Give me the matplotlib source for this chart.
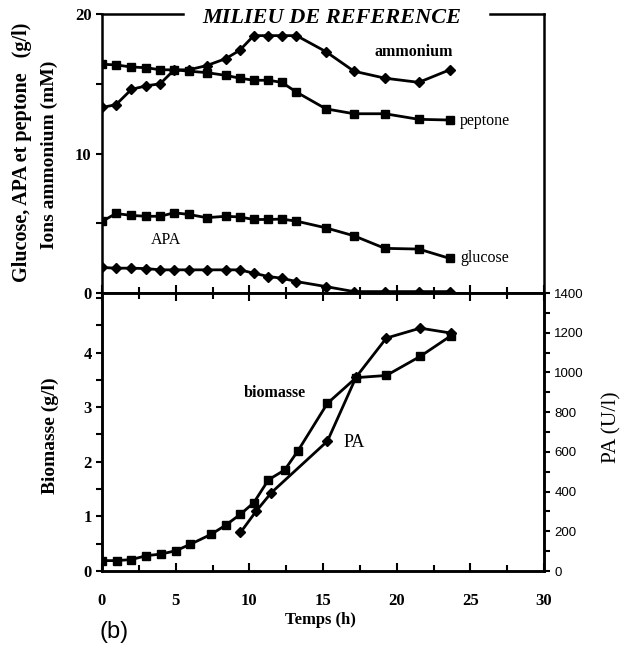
import matplotlib
matplotlib.use("Agg")
import matplotlib.pyplot as plt
from matplotlib.ticker import MultipleLocator

# ---- data ----
t_top = [0, 0.95, 2.0, 3.0, 3.95, 4.9, 5.9, 7.1, 8.4, 9.35, 10.3, 11.3, 12.2, 13.2, 15.2, 17.1, 19.2, 21.5, 23.6]
ammonium = [13.3, 13.5, 14.6, 14.85, 15.0, 16.0, 16.0, 16.3, 16.8, 17.4, 18.45, 18.45, 18.45, 18.45, 17.3, 15.9, 15.4, 15.1, 16.0]
peptone = [16.4, 16.35, 16.2, 16.15, 16.0, 16.0, 15.9, 15.8, 15.6, 15.4, 15.25, 15.25, 15.1, 14.4, 13.2, 12.85, 12.85, 12.45, 12.4]
glucose = [5.13, 5.7, 5.56, 5.5, 5.5, 5.75, 5.63, 5.4, 5.5, 5.45, 5.27, 5.27, 5.3, 5.15, 4.67, 4.1, 3.2, 3.15, 2.48]
apa = [1.83, 1.78, 1.78, 1.75, 1.66, 1.66, 1.66, 1.66, 1.66, 1.66, 1.42, 1.18, 1.06, 0.82, 0.46, 0.1, 0.1, 0.1, 0.1]

t_bio = [0, 1.0, 2.0, 3.0, 4.0, 5.0, 6.0, 7.4, 8.4, 9.4, 10.3, 11.3, 12.4, 13.3, 15.3, 17.25, 19.3, 21.6, 23.7]
biomasse = [0.19, 0.19, 0.21, 0.28, 0.31, 0.37, 0.49, 0.67, 0.84, 1.04, 1.25, 1.67, 1.85, 2.2, 3.07, 3.54, 3.58, 3.93, 4.31]

t_pa = [9.4, 10.45, 11.5, 15.3, 17.25, 19.3, 21.6, 23.7]
pa = [194, 300, 395, 654, 977, 1173, 1223, 1198]

x_ticks = [0, 5, 10, 15, 20, 25, 30]
top_yticks = [0, 10, 20]
bio_yticks = [0, 1, 2, 3, 4]
pa_yticks = [0, 200, 400, 600, 800, 1000, 1200, 1400]

serif = "Liberation Serif"
sans = "Liberation Sans"

fig = plt.figure(figsize=(6.4, 6.56), dpi=100)
L, R = 102 / 640, 544 / 640
W = R - L
y_top = 1 - 14 / 656
y_mid = 1 - 293 / 656
y_bot = 1 - 571 / 656

ax1 = fig.add_axes([L, y_mid, W, y_top - y_mid])
ax2 = fig.add_axes([L, y_bot, W, y_mid - y_bot], sharex=ax1)
ax3 = ax2.twinx()

lw = 2.0
ms = 5.5
ax1.plot(t_top, ammonium, color="black", lw=lw, marker="D", ms=ms)
ax1.plot(t_top, peptone, color="black", lw=lw, marker="s", ms=ms)
ax1.plot(t_top, glucose, color="black", lw=lw, marker="s", ms=ms)
ax1.plot(t_top, apa, color="black", lw=lw, marker="D", ms=ms)

ax2.plot(t_bio, biomasse, color="black", lw=lw, marker="s", ms=ms)
ax3.plot(t_pa, pa, color="black", lw=lw, marker="D", ms=ms)

for ax in (ax1, ax2, ax3):
    for s in ax.spines.values():
        s.set_linewidth(1.8)

# top frame with a gap for the title
ax1.spines["top"].set_visible(False)
for x0, x1 in ((0.0, 0.183), (0.878, 1.0)):
    ax1.plot([x0, x1], [1, 1], transform=ax1.transAxes, color="black", lw=1.8,
             clip_on=False, solid_capstyle="projecting")

ax1.set_xlim(0, 30)
ax1.set_ylim(0, 20)
ax2.set_ylim(0, 5.09)
ax3.set_ylim(0, 1400)

ax1.set_xticks(x_ticks)
ax1.xaxis.set_minor_locator(MultipleLocator(2.5))
ax1.set_yticks(top_yticks)
ax1.yaxis.set_minor_locator(MultipleLocator(5))
ax1.tick_params(axis="x", which="both", direction="in", labelbottom=False, width=1.5)
ax1.tick_params(axis="x", which="major", length=6)
ax1.tick_params(axis="x", which="minor", length=4)
ax1.tick_params(axis="y", which="both", direction="out", width=1.5, length=4)
ax1.set_yticklabels([str(v) for v in top_yticks], fontfamily=serif, fontweight="bold", fontsize=12)

ax2.set_yticks(bio_yticks)
ax2.yaxis.set_minor_locator(MultipleLocator(0.5))
ax2.set_yticklabels([str(v) for v in bio_yticks], fontfamily=serif, fontweight="bold", fontsize=12)
ax2.tick_params(axis="y", which="both", direction="out", width=1.5, length=4)
ax2.tick_params(axis="x", which="both", direction="in", width=1.5, top=True)
ax2.tick_params(axis="x", which="major", length=6, pad=16)
ax2.tick_params(axis="x", which="minor", length=4)
ax2.set_xticks(x_ticks)
ax2.set_xticklabels([str(v) for v in x_ticks], fontfamily=serif, fontweight="bold", fontsize=12)

ax3.set_yticks(pa_yticks)
ax3.yaxis.set_minor_locator(MultipleLocator(100))
ax3.set_yticklabels([str(v) for v in pa_yticks], fontfamily=sans, fontsize=9.5)
ax3.tick_params(axis="y", which="both", direction="out", width=1.5, length=4)

# title in the gap of the top frame
ax1.text(0.52, 0.984, "MILIEU DE REFERENCE", transform=ax1.transAxes, ha="center", va="center",
         fontfamily=serif, fontweight="bold", fontstyle="italic", fontsize=16)

# curve labels
ax1.text(18.5, 17.3, "ammonium", fontfamily=serif, fontweight="bold", fontsize=11.5, va="center")
ax1.text(24.3, 12.3, "peptone", fontfamily=serif, fontsize=11.5, va="center")
ax1.text(24.3, 2.5, "glucose", fontfamily=serif, fontsize=11.5, va="center")
ax1.text(3.3, 3.8, "APA", fontfamily=serif, fontsize=11.5, va="center")
ax2.text(9.6, 3.25, "biomasse", fontfamily=serif, fontweight="bold", fontsize=11.5, va="center")
ax2.text(16.4, 2.35, "PA", fontfamily=serif, fontsize=13, va="center")

# axis labels
fig.text(22 / 640, 1 - 152 / 656, "Glucose, APA et peptone   (g/l)", rotation=90, ha="center", va="center",
         fontfamily=serif, fontweight="bold", fontsize=14.5)
fig.text(49 / 640, 1 - 155 / 656, "Ions ammonium (mM)", rotation=90, ha="center", va="center",
         fontfamily=serif, fontweight="bold", fontsize=14)
fig.text(50 / 640, 1 - 436 / 656, "Biomasse (g/l)", rotation=90, ha="center", va="center",
         fontfamily=serif, fontweight="bold", fontsize=14)
fig.text(612 / 640, 1 - 427 / 656, "PA (U/l)", rotation=90, ha="center", va="center",
         fontfamily=serif, fontsize=15.5)
fig.text(320 / 640, 1 - 620 / 656, "Temps (h)", ha="center", va="center",
         fontfamily=serif, fontweight="bold", fontsize=12)
fig.text(114 / 640, 1 - 632 / 656, "(b)", ha="center", va="center", fontfamily=sans, fontsize=17)

fig.savefig("out.png", dpi=100)
